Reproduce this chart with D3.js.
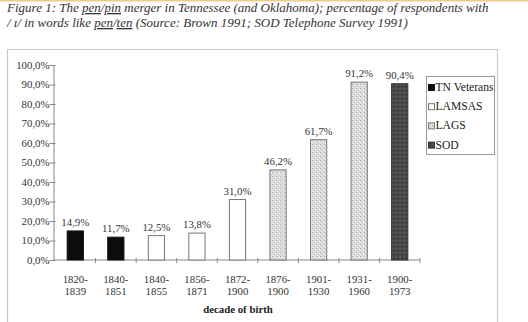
<!DOCTYPE html>
<html><head><meta charset="utf-8">
<script src="https://cdn.jsdelivr.net/npm/d3@7"></script>
<style>body{margin:0;background:#fff}svg{display:block}
text{font-family:"Liberation Serif","Times New Roman",Times,"DejaVu Serif",serif}</style>
</head><body><svg id="c" width="528" height="322"></svg>
<script>
const categories = [["1820-","1839"],["1840-","1851"],["1840-","1855"],["1856-","1871"],["1872-","1900"],["1876-","1900"],["1901-","1930"],["1931-","1960"],["1900-","1973"]];
const values = [14.9, 11.7, 12.5, 13.8, 31.0, 46.2, 61.7, 91.2, 90.4];
const seriesOf = ["TN Veterans","TN Veterans","LAMSAS","LAMSAS","LAMSAS","LAGS","LAGS","LAGS","SOD"];
const seriesNames = ["TN Veterans","LAMSAS","LAGS","SOD"];
const yTicks = [0,10,20,30,40,50,60,70,80,90,100];

const fills = {"TN Veterans":"#0c0c0c","LAMSAS":"#ffffff","LAGS":"url(#lags)","SOD":"url(#sod)"};
const strokes = {"TN Veterans":"#111","LAMSAS":"#777","LAGS":"#777","SOD":"#333"};
const fmt = v => d3.format(".1f")(v).replace(".", ",") + "%";

const svg = d3.select("#c");
const defs = svg.append("defs");
const p1 = defs.append("pattern").attr("id","lags").attr("width",4).attr("height",4).attr("patternUnits","userSpaceOnUse");
p1.append("rect").attr("width",4).attr("height",4).attr("fill","#dedede");
p1.append("rect").attr("x",0).attr("y",0).attr("width",1).attr("height",1).attr("fill","#a8a8a8");
p1.append("rect").attr("x",2).attr("y",2).attr("width",1).attr("height",1).attr("fill","#bbbbbb");
p1.append("rect").attr("x",3).attr("y",1).attr("width",1).attr("height",1).attr("fill","#f4f4f4");
const p2 = defs.append("pattern").attr("id","sod").attr("width",4).attr("height",4).attr("patternUnits","userSpaceOnUse");
p2.append("rect").attr("width",4).attr("height",4).attr("fill","#474747");
p2.append("rect").attr("x",0).attr("y",0).attr("width",1).attr("height",1).attr("fill","#6c6c6c");
p2.append("rect").attr("x",2).attr("y",2).attr("width",1).attr("height",1).attr("fill","#2a2a2a");
p2.append("rect").attr("x",3).attr("y",1).attr("width",1).attr("height",1).attr("fill","#606060");

svg.append("rect").attr("x",0).attr("y",0).attr("width",528).attr("height",1.5).attr("fill","#f3c98a");

const t1 = svg.append("text").attr("x",7).attr("y",12).attr("font-style","italic").attr("font-size",13).attr("fill","#333");
t1.append("tspan").text("Figure 1: The ");
t1.append("tspan").attr("text-decoration","underline").text("pen");
t1.append("tspan").text("/");
t1.append("tspan").attr("text-decoration","underline").text("pin");
t1.append("tspan").text(" merger in Tennessee (and Oklahoma); percentage of respondents with");
const t2 = svg.append("text").attr("x",7).attr("y",27).attr("font-style","italic").attr("font-size",13).attr("fill","#333");
t2.append("tspan").text("/ ɪ/ in words like ");
t2.append("tspan").attr("text-decoration","underline").text("pen");
t2.append("tspan").text("/");
t2.append("tspan").attr("text-decoration","underline").text("ten");
t2.append("tspan").text(" (Source: Brown 1991; SOD Telephone Survey 1991)");

svg.append("path").attr("d","M7.5,330 V49.5 H497.5 V330").attr("fill","none").attr("stroke","#c8c8c8").attr("stroke-width",1.2);

const x0 = 55, x1 = 420;
const x = d3.scaleBand().domain(d3.range(categories.length)).range([x0,x1]).paddingInner(0.6).paddingOuter(0.3);
const xb = d3.scaleBand().domain(d3.range(categories.length)).range([x0,x1]);
const y = d3.scaleLinear().domain([0,100]).range([260,65]);

const ya = svg.append("g").attr("transform","translate(53.5,0)")
  .call(d3.axisLeft(y).tickValues(yTicks).tickSize(4).tickFormat(v => d3.format(".1f")(v).replace(".",",")+"%"));
ya.attr("font-family",null);
ya.select(".domain").attr("stroke","#888");
ya.selectAll(".tick line").attr("stroke","#888").attr("x2",-4).attr("x1",2);
ya.selectAll("text").attr("font-size",10.8).attr("fill","#333").attr("x",-4);

const xa = svg.append("g").attr("transform","translate(0,260)");
xa.append("line").attr("x1",53.5).attr("x2",x1).attr("stroke","#888");
xa.selectAll("line.t").data(d3.range(1, categories.length+1)).join("line").attr("class","t")
  .attr("x1",i => xb(i-1)+xb.bandwidth()).attr("x2",i => xb(i-1)+xb.bandwidth())
  .attr("y1",-2).attr("y2",3).attr("stroke","#888");

svg.selectAll("rect.bar").data(values).join("rect").attr("class","bar")
  .attr("x",(d,i)=>x(i)).attr("width",x.bandwidth())
  .attr("y",d=>y(d)).attr("height",d=>y(0)-y(d))
  .attr("fill",(d,i)=>fills[seriesOf[i]]).attr("stroke",(d,i)=>strokes[seriesOf[i]]).attr("stroke-width",1);

svg.selectAll("text.val").data(values).join("text").attr("class","val")
  .attr("x",(d,i)=>x(i)+x.bandwidth()/2).attr("y",d=>y(d)-5)
  .attr("text-anchor","middle").attr("font-size",10.8).attr("fill","#333")
  .text(fmt);

const cl = svg.selectAll("text.cat").data(categories).join("text").attr("class","cat")
  .attr("text-anchor","middle").attr("font-size",10.8).attr("fill","#333");
cl.append("tspan").attr("x",(d,i)=>x(i)+x.bandwidth()/2).attr("y",283).text(d=>d[0]);
cl.append("tspan").attr("x",(d,i)=>x(i)+x.bandwidth()/2).attr("y",295).text(d=>d[1]);

svg.append("text").attr("x",238).attr("y",313).attr("text-anchor","middle")
  .attr("font-weight","bold").attr("font-size",10.8).attr("fill","#222").text("decade of birth");

const lg = svg.append("g");
lg.append("rect").attr("x",426.5).attr("y",76.5).attr("width",68).attr("height",78).attr("fill","#fff").attr("stroke","#999");
const li = lg.selectAll("g.li").data(seriesNames).join("g").attr("class","li")
  .attr("transform",(d,i)=>`translate(428,${91+i*19.2})`);
li.append("rect").attr("x",0.5).attr("y",-6.5).attr("width",6).attr("height",6)
  .attr("fill",d=>fills[d]).attr("stroke",d=>strokes[d]);
li.append("text").attr("x",7.5).attr("y",0).attr("font-size",11.6).attr("fill","#222").text(d=>d);
</script></body></html>
